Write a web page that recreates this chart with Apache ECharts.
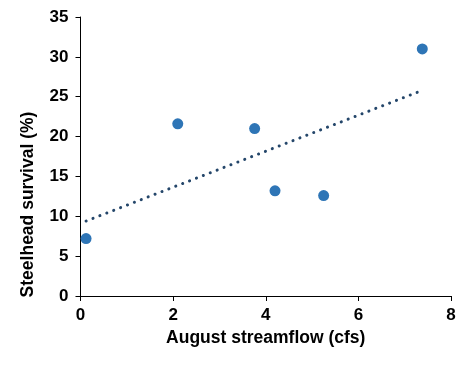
<!DOCTYPE html>
<html>
<head>
<meta charset="utf-8">
<script src="https://cdn.jsdelivr.net/npm/echarts@6/dist/echarts.min.js"></script>
<style>
html,body{margin:0;padding:0;background:#fff;}
#chart{width:475px;height:372px;}
</style>
</head>
<body>
<div id="chart"></div>
<script>
// Observed data
const streamflow = [0.12, 2.1, 3.76, 4.2, 5.25, 7.38];
const survival = [7.2, 21.6, 21.0, 13.2, 12.6, 31.0];
// Linear trendline endpoints
const trendX = [0.12, 7.38];
const trendY = [9.4, 25.8];
const xTicks = [0, 2, 4, 6, 8];
const yTicks = [0, 5, 10, 15, 20, 25, 30, 35];
const xTitle = 'August streamflow (cfs)';
const yTitle = 'Steelhead survival (%)';

const pts = streamflow.map((x, i) => [x, survival[i]]);
const trend = trendX.map((x, i) => [x, trendY[i]]);

const chart = echarts.init(document.getElementById('chart'));
const font = '"Liberation Sans", Arial, sans-serif';
chart.setOption({
  backgroundColor: '#ffffff',
  animation: false,
  grid: {left: 80.5, right: 24, top: 17, bottom: 76, containLabel: false},
  xAxis: {
    type: 'value', min: xTicks[0], max: xTicks[xTicks.length - 1], interval: 2,
    name: xTitle, nameLocation: 'middle', nameGap: 24,
    nameTextStyle: {fontFamily: font, fontWeight: 'bold', fontSize: 17.5, color: '#000'},
    axisLine: {show: true, lineStyle: {color: '#000', width: 1}},
    axisTick: {show: true, inside: false, length: 5, lineStyle: {color: '#000'}},
    axisLabel: {fontFamily: font, fontWeight: 'bold', fontSize: 17, color: '#000', margin: 11},
    splitLine: {show: false}
  },
  yAxis: {
    type: 'value', min: yTicks[0], max: yTicks[yTicks.length - 1], interval: 5,
    name: yTitle, nameLocation: 'middle', nameGap: 43, nameRotate: 90,
    nameTextStyle: {fontFamily: font, fontWeight: 'bold', fontSize: 17.5, color: '#000', padding: [0, 96, 0, 0]},
    axisLine: {show: true, lineStyle: {color: '#000', width: 1}},
    axisTick: {show: true, inside: false, length: 5, lineStyle: {color: '#000'}},
    axisLabel: {fontFamily: font, fontWeight: 'bold', fontSize: 17, color: '#000', margin: 12},
    splitLine: {show: false}
  },
  series: [
    {
      type: 'line', data: trend, symbol: 'none', silent: true,
      lineStyle: {color: '#24466a', width: 3, type: [0.1, 7.3], cap: 'round'},
      z: 1
    },
    {
      type: 'scatter', data: pts, symbol: 'circle', symbolSize: 11,
      itemStyle: {color: '#2e75b6', opacity: 1},
      z: 2
    }
  ]
});
</script>
</body>
</html>
